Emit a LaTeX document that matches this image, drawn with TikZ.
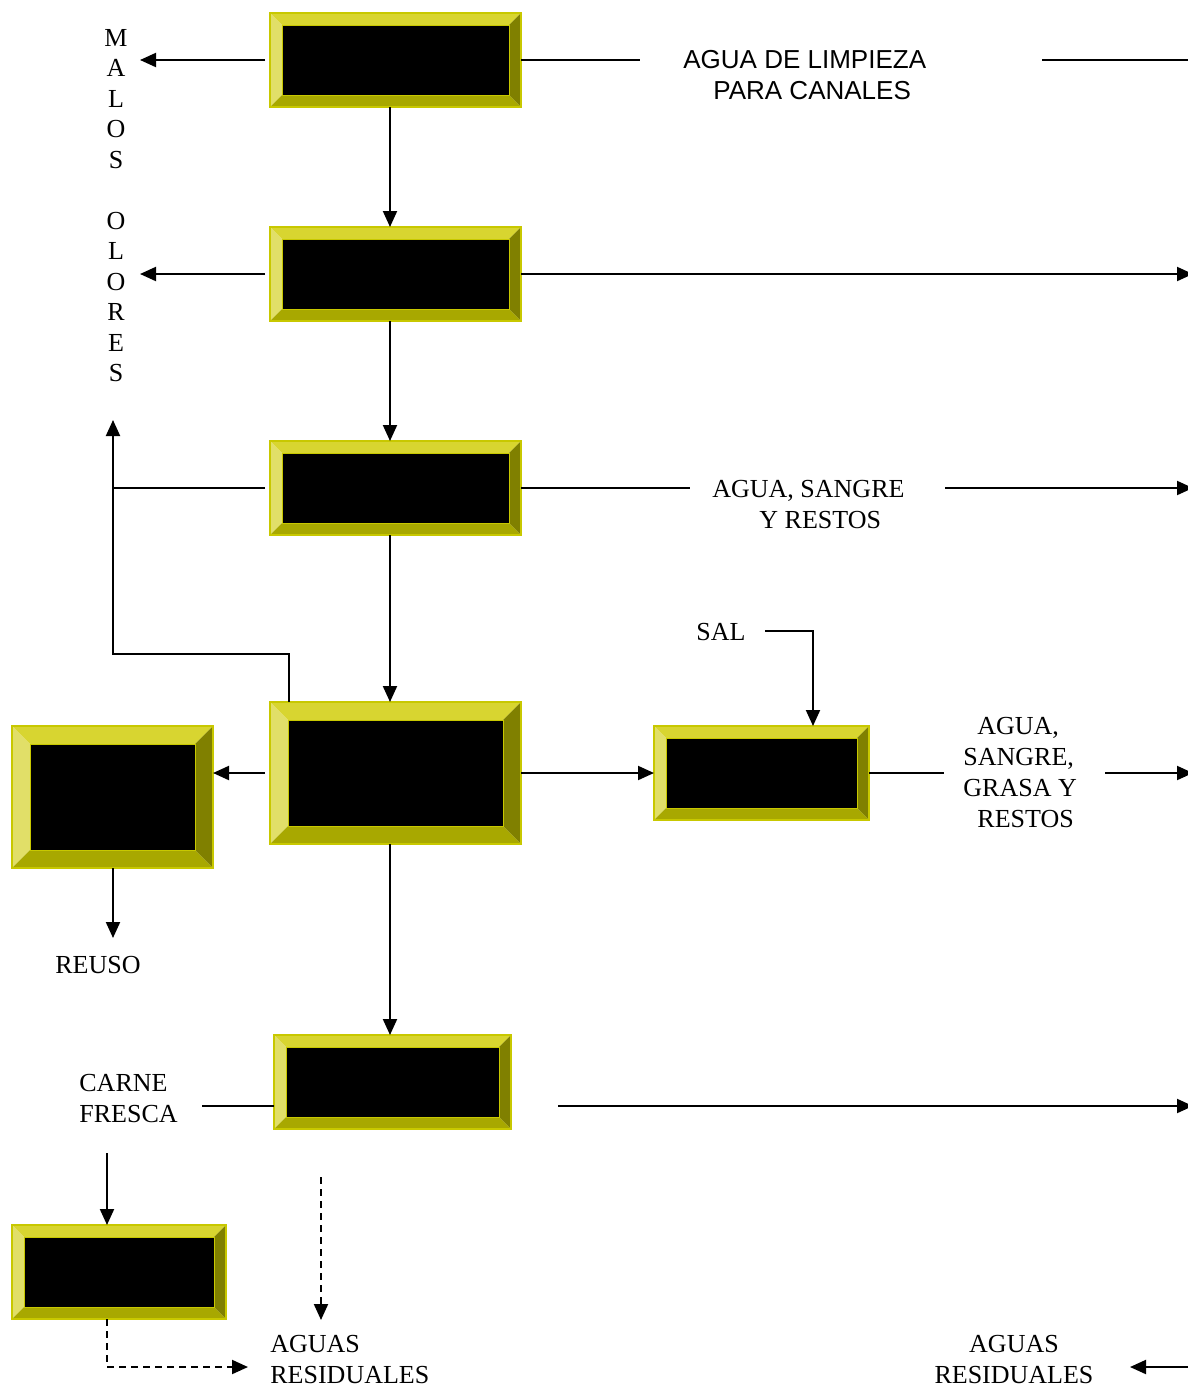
\documentclass[tikz,border=0pt]{standalone}
\usepackage{fontspec}
\setmainfont{Liberation Serif}
\newfontfamily\arialf{Liberation Sans}
\usetikzlibrary{arrows.meta,calc}
\definecolor{bvtop}{RGB}{216,213,48}
\definecolor{bvleft}{RGB}{225,223,104}
\definecolor{bvright}{RGB}{128,128,0}
\definecolor{bvbot}{RGB}{168,168,0}
\definecolor{bvedge}{RGB}{200,200,0}
\tikzset{
  conn/.style={line width=1pt, draw=black},
  arr/.style={conn, -{Triangle[length=8pt,width=7pt]}},
  dsh/.style={dash pattern=on 3.5pt off 2.5pt},
  lbl/.style={font=\fontsize{13}{15.5}\selectfont, inner sep=0pt, align=center},
  sanslbl/.style={font=\arialf\fontsize{13}{15.5}\selectfont, inner sep=0pt},
}
\newcommand\bevbox[6]{%
  \node[inner sep=0pt, outer sep=0pt, minimum width=#4, minimum height=#5] (#1) at (#2,#3) {};
  \coordinate (#1-a) at ([shift={(#6,-#6)}]#1.north west);
  \coordinate (#1-b) at ([shift={(-#6,-#6)}]#1.north east);
  \coordinate (#1-c) at ([shift={(-#6,#6)}]#1.south east);
  \coordinate (#1-d) at ([shift={(#6,#6)}]#1.south west);
  \fill[bvtop] (#1.north west) -- (#1.north east) -- (#1-b) -- (#1-a) -- cycle;
  \fill[bvleft] (#1.north west) -- (#1-a) -- (#1-d) -- (#1.south west) -- cycle;
  \fill[bvright] (#1.north east) -- (#1.south east) -- (#1-c) -- (#1-b) -- cycle;
  \fill[bvbot] (#1.south west) -- (#1-d) -- (#1-c) -- (#1.south east) -- cycle;
  \draw[bvedge, line width=0.7pt] (#1.north west) rectangle (#1.south east);
  \fill[black] (#1-a) rectangle (#1-c);
  \draw[bvedge, line width=0.5pt] (#1-a) rectangle (#1-c);
}
\begin{document}
\begin{tikzpicture}[x=0.5pt,y=-0.5pt]
\useasboundingbox (0,0) rectangle (1188,1388);

% boxes
\bevbox{b1}{395.5}{60}{125.5pt}{47pt}{6pt}
\bevbox{b2}{395.5}{274}{125.5pt}{47pt}{6pt}
\bevbox{b3}{395.5}{488}{125.5pt}{47pt}{6pt}
\bevbox{b4}{395.5}{773}{125.5pt}{71pt}{9pt}
\bevbox{b5}{112.5}{797}{100.5pt}{71pt}{9pt}
\bevbox{b6}{761.5}{773}{107.5pt}{47pt}{6pt}
\bevbox{b7}{392.5}{1082}{118.5pt}{47pt}{6pt}
\bevbox{b8}{119}{1272}{107pt}{47pt}{6pt}

% labels
\node[lbl, font=\fontsize{13}{15.25}\selectfont] (malos) at (116,205.5)
  {M\\A\\L\\O\\S\\\mbox{}\\O\\L\\O\\R\\E\\S};
\node[sanslbl, align=left, anchor=west] (t1) at (683,75.5)
  {AGUA DE LIMPIEZA\\\hspace*{15pt}PARA CANALES};
\node[lbl, align=left, anchor=west] (t2) at (712,505)
  {AGUA, SANGRE\\\hspace*{23.5pt}Y RESTOS};
\node[lbl] (sal) at (721,632) {SAL};
\node[lbl, align=left, anchor=west] (t4) at (963,773)
  {\hspace*{7pt}AGUA,\\SANGRE,\\GRASA Y\\\hspace*{7pt}RESTOS};
\node[lbl] (reuso) at (98,965) {REUSO};
\node[lbl, align=left, anchor=west] (carne) at (79,1099) {CARNE\\FRESCA};
\node[lbl, align=left, anchor=west] (ar1) at (270,1360) {AGUAS\\RESIDUALES};
\node[lbl] (ar2) at (1014,1360) {AGUAS\\RESIDUALES};

% coordinates
\coordinate (vx) at (390,0);
\coordinate (mo1) at (140,60);
\coordinate (mo2) at (140,274);
\coordinate (w1a) at (640,60);
\coordinate (w1b) at (1042,60);
\coordinate (w1c) at (1190,60);
\coordinate (w2) at (1193,274);
\coordinate (j3) at (113,488);
\coordinate (w3a) at (690,488);
\coordinate (w3b) at (945,488);
\coordinate (w3c) at (1193,488);
\coordinate (lp1) at (289,654);
\coordinate (lp2) at (113,654);
\coordinate (lp3) at (113,420);
\coordinate (s1) at (765,631);
\coordinate (s2) at (813,631);
\coordinate (w6a) at (944,773);
\coordinate (w6b) at (1105,773);
\coordinate (w6c) at (1193,773);
\coordinate (r1) at (113,938);
\coordinate (cf1) at (202,1106);
\coordinate (cf2) at (558,1106);
\coordinate (cf3) at (1193,1106);
\coordinate (m1) at (107,1153);
\coordinate (dv1) at (321,1177);
\coordinate (dv2) at (321,1320);
\coordinate (d1) at (107,1367);
\coordinate (d2) at (248,1367);
\coordinate (rr1) at (1190,1367);
\coordinate (rr2) at (1130,1367);

% connectors
\draw[arr] ([xshift=-2.5pt]b1.west) -- (mo1);
\draw[conn] (b1.east) -- (w1a);
\draw[conn] (w1b) -- (w1c);
\draw[arr] (b1.south -| vx) -- (b2.north -| vx);

\draw[arr] ([xshift=-2.5pt]b2.west) -- (mo2 |- b2.west);
\draw[arr] (b2.east) -- (w2 |- b2.east);
\draw[arr] (b2.south -| vx) -- (b3.north -| vx);

\draw[conn] ([xshift=-2.5pt]b3.west) -- (j3);
\draw[conn] (b3.east) -- (w3a);
\draw[arr] (w3b) -- (w3c);
\draw[arr] (b3.south -| vx) -- (b4.north -| vx);

\draw[arr] (b4.north -| lp1) -- (lp1) -- (lp2) -- (lp3);
\draw[arr] ([xshift=-2.5pt]b4.west) -- (b5.east |- b4.west);
\draw[arr] (b4.east) -- (b6.west);
\draw[arr] (s1) -- (s2) -- (b6.north -| s2);
\draw[conn] (b6.east) -- (w6a);
\draw[arr] (w6b) -- (w6c);
\draw[arr] (b5.south -| r1) -- (r1);
\draw[arr] (b4.south -| vx) -- (b7.north -| vx);

\draw[conn] (cf1) -- (b7.west |- cf1);
\draw[arr] (cf2) -- (cf3);
\draw[arr] (m1) -- (b8.north -| m1);
\draw[arr, dsh] (dv1) -- (dv2);
\draw[arr, dsh] (b8.south -| d1) -- (d1) -- (d2);
\draw[arr] (rr1) -- (rr2);
\end{tikzpicture}
\end{document}
